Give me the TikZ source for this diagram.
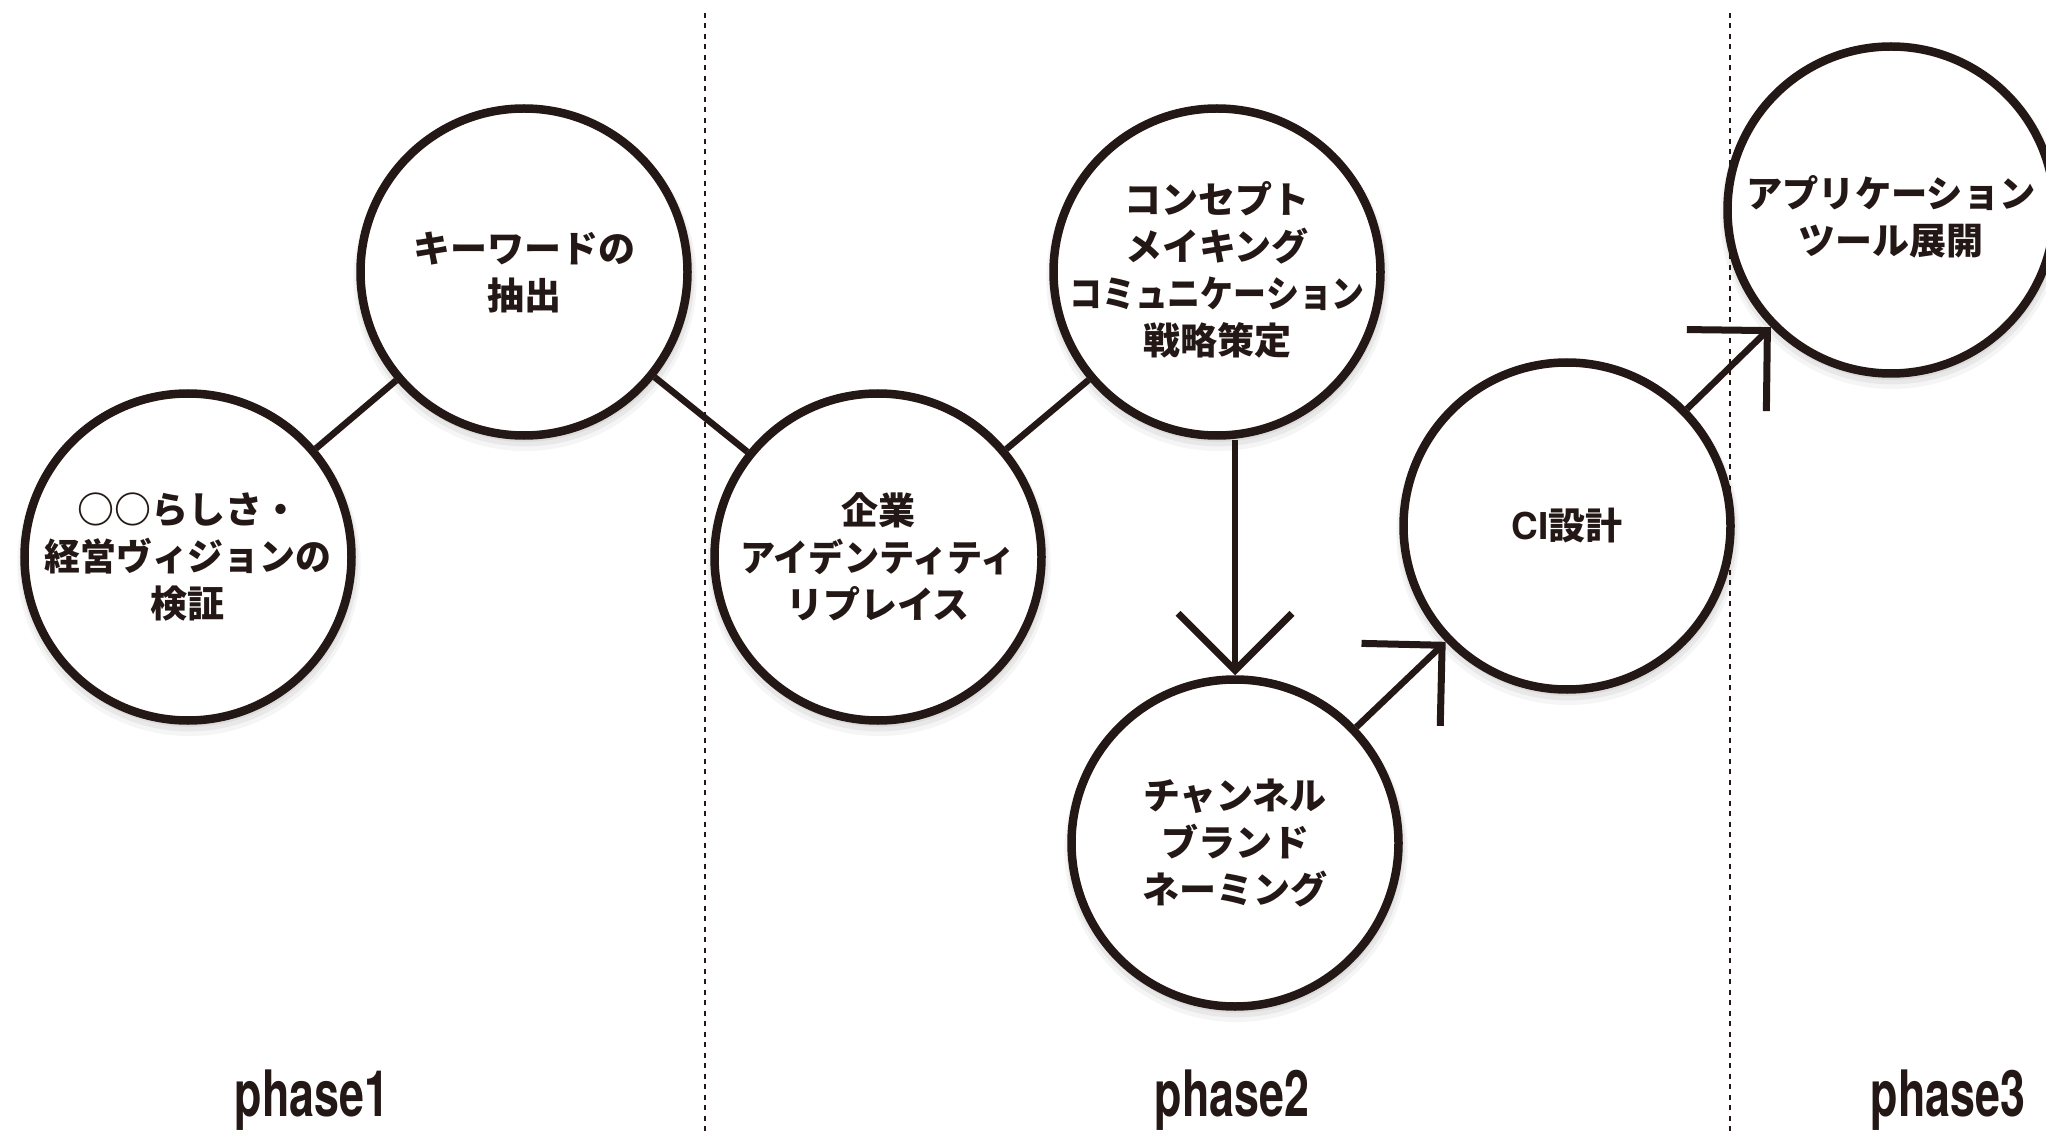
\documentclass[tikz,border=0pt]{standalone}
\usepackage{fontspec}
\usepackage{graphicx}
\setsansfont{TeX Gyre Heros}
\newfontfamily\jp{Noto Sans CJK JP Black}
\usetikzlibrary{arrows.meta,shadows}
\definecolor{ink}{HTML}{231815}
\newcommand{\sqz}[2]{\scalebox{#1}[1]{#2}}
\begin{document}
\begin{tikzpicture}[x=1pt,y=-1pt,
  bubble/.style={circle, draw=ink, line width=8.5pt, fill=white, inner sep=0pt,
    minimum size=327pt,
    general shadow={fill=black, opacity=0.05, shadow xshift=1pt, shadow yshift=-3pt, shadow scale=1.02},
    general shadow={fill=black, opacity=0.05, shadow xshift=1pt, shadow yshift=-5pt, shadow scale=1.035},
    general shadow={fill=black, opacity=0.04, shadow xshift=1pt, shadow yshift=-7pt, shadow scale=1.05}},
  btext/.style={align=center, text=ink, inner sep=0pt,
    font=\jp\fontsize{37}{47}\selectfont},
  conn/.style={draw=ink, line width=6.5pt},
  barb/.style={-{Straight Barb[length=57pt, width=114pt, line width=7pt]}},
  divider/.style={draw=ink, line width=2pt, dash pattern=on 5pt off 5.5pt},
  phaselabel/.style={anchor=base, text=ink, inner sep=0pt,
    font=\sffamily\bfseries\fontsize{64}{64}\selectfont}]
\useasboundingbox (0,0) rectangle (2046,1131);
\fill[white] (0,0) rectangle (2046,1131);

% dividers
\coordinate (d1t) at (704.5,13);
\coordinate (d1b) at (704.5,1131);
\coordinate (d2t) at (1729.5,13);
\coordinate (d2b) at (1729.5,1131);
\draw[divider] (d1t) -- (d1b);
\draw[divider] (d2t) -- (d2b);

% circles
\node[bubble, label={[btext]center:{○○らしさ・\\\sqz{0.97}{経営ヴィジョンの}\\検証}}] (c1) at (188,557) {};
\node[bubble, label={[btext]center:{キーワードの\\抽出}}] (c2) at (524,272) {};
\node[bubble, label={[btext]center:{企業\\\sqz{0.95}{アイデンティティ}\\リプレイス}}] (c3) at (878,557) {};
\node[bubble, label={[btext, yshift=2pt]center:{コンセプト\\メイキング\\\sqz{0.89}{コミュニケーション}\\戦略策定}}] (c4) at (1217,272) {};
\node[bubble, label={[btext]center:{{\sffamily\bfseries CI}設計}}] (c5) at (1567,526) {};
\node[bubble, label={[btext]center:{チャンネル\\ブランド\\ネーミング}}] (c6) at (1235,843) {};
\node[bubble, label={[btext, yshift=-7pt]center:{\sqz{0.98}{アプリケーション}\\ツール展開}}] (c7) at (1891,210) {};

% connectors
\draw[conn] (c1) -- (c2);
\draw[conn] (c2) -- (c3);
\draw[conn] (c3) -- (c4);
\draw[conn, barb] (c6.north |- c4.south) -- (c6.north);
\draw[conn, barb] (c6) -- (c5);
\draw[conn, barb] (c5) -- (c7);

% phase labels
\node[phaselabel] (p1) at (312,1116) {\sqz{0.70}{phase1}};
\node[phaselabel] (p2) at (1232,1116) {\sqz{0.70}{phase2}};
\node[phaselabel] (p3) at (1948,1116) {\sqz{0.70}{phase3}};
\end{tikzpicture}
\end{document}
